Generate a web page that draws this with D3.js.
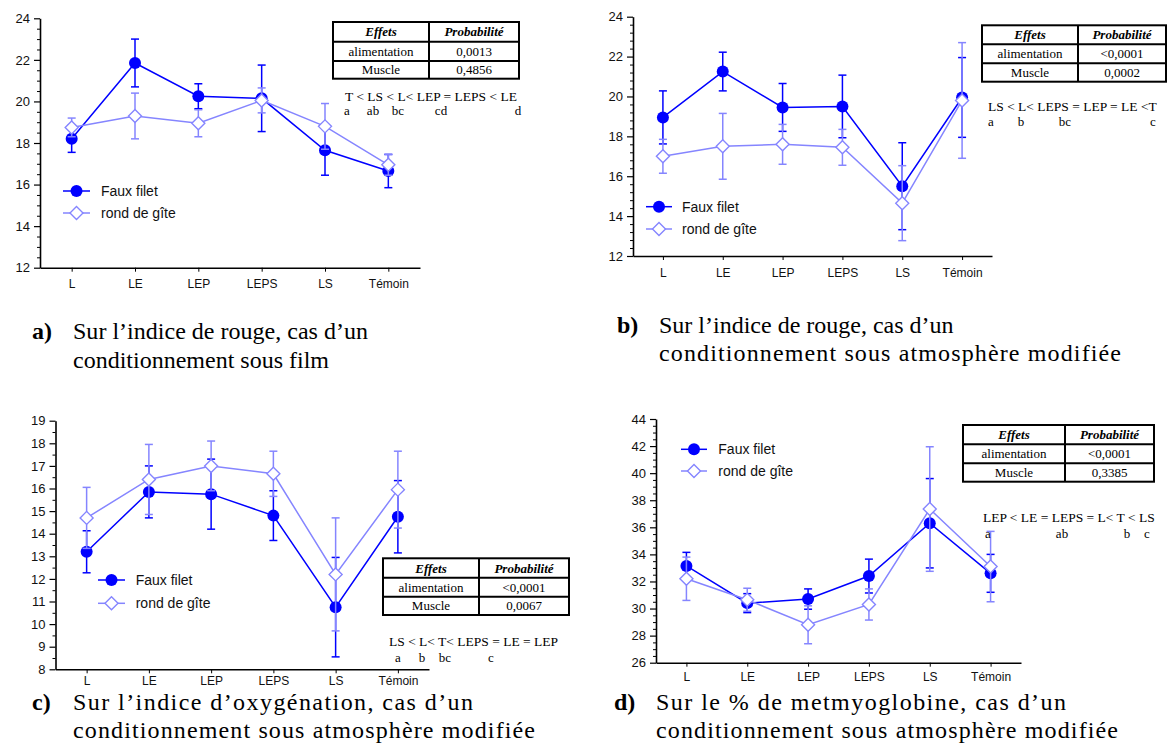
<!DOCTYPE html>
<html>
<head>
<meta charset="utf-8">
<script src="https://cdn.jsdelivr.net/npm/d3@7"></script>
<style>
  body { margin: 0; background: #fff; }
  svg { display: block; }
</style>
</head>
<body>
<svg id="fig" width="1167" height="756"></svg>
<script>
// Treatments on the x axis and the two muscles compared
const categories = ["L", "LE", "LEP", "LEPS", "LS", "Témoin"];
const seriesNames = ["Faux filet", "rond de gîte"];

// a) red index, film packaging
const ffA = [18.2, 21.85, 20.25, 20.15, 17.65, 16.65];
const ffAErr = [0.65, 1.15, 0.6, 1.6, 1.2, 0.8];
const rgA = [18.75, 19.3, 18.95, 20.05, 18.8, 16.95];
const rgAErr = [0.45, 1.1, 0.65, 0.6, 1.1, 0.5];

// b) red index, modified atmosphere
const ffB = [18.95, 21.25, 19.45, 19.5, 15.5, 19.95];
const ffBErr = [1.33, 0.97, 1.2, 1.57, 2.18, 2.0];
const rgB = [17.0, 17.5, 17.6, 17.45, 14.65, 19.8];
const rgBErr = [0.85, 1.65, 1.0, 0.9, 1.88, 2.9];

// c) oxygenation index, modified atmosphere
const ffC = [13.2, 15.85, 15.75, 14.8, 10.75, 14.75];
const ffCErr = [0.93, 1.15, 1.55, 1.1, 2.2, 1.6];
const rgC = [14.7, 16.4, 17.0, 16.65, 12.2, 15.95];
const rgCErr = [1.35, 1.55, 1.1, 1.0, 2.5, 1.7];

// d) % metmyoglobin, modified atmosphere
const ffD = [33.15, 30.4, 30.7, 32.4, 36.3, 32.6];
const ffDErr = [1.0, 0.7, 0.75, 1.25, 3.3, 1.4];
const rgD = [32.2, 30.65, 28.8, 30.3, 37.35, 33.1];
const rgDErr = [1.6, 0.85, 1.4, 1.15, 4.6, 2.6];

// Y axis ticks
const ticksA = [12, 14, 16, 18, 20, 22, 24];
const ticksB = [12, 14, 16, 18, 20, 22, 24];
const ticksC = [8, 9, 10, 11, 12, 13, 14, 15, 16, 17, 18, 19];
const ticksD = [26, 28, 30, 32, 34, 36, 38, 40, 42, 44];

// ANOVA tables
const tableHeader = ["Effets", "Probabilité"];
const effects = ["alimentation", "Muscle"];
const probA = ["0,0013", "0,4856"];
const probB = ["<0,0001", "0,0002"];
const probC = ["<0,0001", "0,0067"];
const probD = ["<0,0001", "0,3385"];

// Ranking of treatments and significance groups
const rankA = "T < LS < L< LEP = LEPS < LE";
const lettersA = ["a", "ab", "bc", "cd", "d"];
const rankB = "LS < L< LEPS = LEP = LE <T";
const lettersB = ["a", "b", "bc", "c"];
const rankC = "LS < L< T< LEPS = LE = LEP";
const lettersC = ["a", "b", "bc", "c"];
const rankD = "LEP < LE = LEPS = L< T < LS";
const lettersD = ["a", "ab", "b", "c"];

// Captions
const captionA = ["a)", "Sur l\u2019indice de rouge, cas d\u2019un", "conditionnement sous film"];
const captionB = ["b)", "Sur l\u2019indice de rouge, cas d\u2019un", "conditionnement sous atmosphère modifiée"];
const captionC = ["c)", "Sur l\u2019indice d\u2019oxygénation, cas d\u2019un", "conditionnement sous atmosphère modifiée"];
const captionD = ["d)", "Sur le % de metmyoglobine, cas d\u2019un", "conditionnement sous atmosphère modifiée"];

const COL_FF = "#0000ff";
const COL_RG = "#8585ff";
const SANS = "'Liberation Sans', Arial, sans-serif";
const SERIF = "'Liberation Serif', 'Times New Roman', serif";

const panels = [
  { ff: ffA, ffErr: ffAErr, rg: rgA, rgErr: rgAErr, ticks: ticksA, minor: 0.5,
    x0: 40, x1: 420, yTop: 18.3, yBot: 267.7, xPad: 8,
    legend: { x0: 63, x1: 90, y: 191, dy: 22, tx: 101 },
    table: { x0: 333, xm: 429, x1: 519, rows: [22, 41.7, 61, 78.7] }, probs: probA,
    rank: rankA, rankX: 345, rankY: 101, letters: lettersA, letterX: [347, 373, 398, 441, 518], letterY: 115,
    caption: captionA, capX: [32, 73], capY: 339, capFont: 24, capLead: 29, capLen: [295, null] },
  { ff: ffB, ffErr: ffBErr, rg: rgB, rgErr: rgBErr, ticks: ticksB, minor: 0.4,
    x0: 633, x1: 992, yTop: 16.7, yBot: 256, xPad: 8,
    legend: { x0: 646, x1: 672, y: 206.7, dy: 22.3, tx: 682 },
    table: { x0: 982, xm: 1078, x1: 1166, rows: [25.3, 44.3, 63.3, 81.7] }, probs: probB,
    rank: rankB, rankX: 988, rankY: 111, letters: lettersB, letterX: [991, 1021, 1065, 1153], letterY: 126,
    caption: captionB, capX: [617, 659], capY: 333, capFont: 24, capLead: 28, capLen: [null, 462] },
  { ff: ffC, ffErr: ffCErr, rg: rgC, rgErr: rgCErr, ticks: ticksC, minor: 0.5,
    x0: 55.5, x1: 429, yTop: 420.7, yBot: 669.3, xPad: 3,
    legend: { x0: 98, x1: 125, y: 580, dy: 23.3, tx: 135.7 },
    table: { x0: 383, xm: 479, x1: 569, rows: [558.3, 577.7, 596.7, 615] }, probs: probC,
    rank: rankC, rankX: 389, rankY: 646, letters: lettersC, letterX: [398, 422, 445, 491], letterY: 661.5,
    caption: captionC, capX: [32, 73], capY: 710, capFont: 24, capLead: 28, capLen: [400, 462] },
  { ff: ffD, ffErr: ffDErr, rg: rgD, rgErr: rgDErr, ticks: ticksD, minor: 0.5,
    x0: 656, x1: 1021, yTop: 419, yBot: 662.7, xPad: 6,
    legend: { x0: 681, x1: 707, y: 449.3, dy: 21.7, tx: 718.3 },
    table: { x0: 963, xm: 1065, x1: 1154, rows: [425, 444.3, 463.3, 481.7] }, probs: probD,
    rank: rankD, rankX: 983, rankY: 522, letters: lettersD, letterX: [988, 1062, 1127, 1147], letterY: 538,
    caption: captionD, capX: [614, 656], capY: 710, capFont: 24, capLead: 28, capLen: [410, 462] }
];

const svg = d3.select("#fig");

function diamond(sel, cx, cy, r) {
  sel.append("path")
    .attr("d", `M${cx},${cy - r}L${cx + r},${cy}L${cx},${cy + r}L${cx - r},${cy}Z`)
    .attr("fill", "#fff").attr("stroke", COL_RG).attr("stroke-width", 1.4);
}

function drawSeries(g, x, y, vals, errs, color, kind) {
  const pts = categories.map((c, i) => ({ c, v: vals[i], e: errs[i] }));
  g.append("path")
    .datum(pts)
    .attr("fill", "none").attr("stroke", color).attr("stroke-width", 1.5)
    .attr("d", d3.line().x(d => x(d.c)).y(d => y(d.v)));
  const eb = g.append("g").attr("stroke", color).attr("stroke-width", 1.5);
  pts.forEach(d => {
    const cx = x(d.c), lo = y(d.v - d.e), hi = y(d.v + d.e);
    eb.append("line").attr("x1", cx).attr("x2", cx).attr("y1", lo).attr("y2", hi);
    eb.append("line").attr("x1", cx - 4).attr("x2", cx + 4).attr("y1", lo).attr("y2", lo);
    eb.append("line").attr("x1", cx - 4).attr("x2", cx + 4).attr("y1", hi).attr("y2", hi);
  });
  pts.forEach(d => {
    if (kind === "circle") {
      g.append("circle").attr("cx", x(d.c)).attr("cy", y(d.v)).attr("r", 6).attr("fill", color);
    } else {
      diamond(g, x(d.c), y(d.v), 6.5);
    }
  });
}

panels.forEach(p => {
  const g = svg.append("g");
  const x = d3.scalePoint().domain(categories).range([p.x0, p.x1]).padding(0.5);
  const dom = [p.ticks[0], p.ticks[p.ticks.length - 1]];
  const y = d3.scaleLinear().domain(dom).range([p.yBot, p.yTop]);

  // minor ticks
  const minor = d3.range(dom[0], dom[1] + 1e-9, p.minor).filter(v => !p.ticks.some(t => Math.abs(t - v) < 1e-6));
  const yMinor = g.append("g").attr("transform", `translate(${p.x0},0)`)
    .call(d3.axisLeft(y).tickValues(minor).tickSize(3).tickSizeOuter(0).tickFormat(""));
  yMinor.select(".domain").remove();
  yMinor.selectAll("line").attr("stroke", "#000").attr("stroke-width", 1);

  const yAxis = g.append("g").attr("transform", `translate(${p.x0},0)`)
    .call(d3.axisLeft(y).tickValues(p.ticks).tickSize(6).tickSizeOuter(0).tickPadding(4).tickFormat(d3.format("d")));
  yAxis.select(".domain").attr("stroke", "#000").attr("stroke-width", 1.6);
  yAxis.selectAll(".tick line").attr("stroke", "#000").attr("stroke-width", 1.2);
  yAxis.selectAll("text").attr("font-family", SANS).attr("font-size", 13).attr("fill", "#111");

  const xAxis = g.append("g").attr("transform", `translate(0,${p.yBot})`)
    .call(d3.axisBottom(x).tickSize(4).tickSizeOuter(0).tickPadding(p.xPad));
  xAxis.select(".domain").attr("stroke", "#000").attr("stroke-width", 1.6);
  xAxis.selectAll(".tick line").attr("stroke", "#000").attr("stroke-width", 1);
  xAxis.selectAll("text").attr("font-family", SANS).attr("font-size", 12).attr("fill", "#111");

  // series: Faux filet underneath, rond de gîte on top
  drawSeries(g, x, y, p.ff, p.ffErr, COL_FF, "circle");
  drawSeries(g, x, y, p.rg, p.rgErr, COL_RG, "diamond");

  // legend
  const L = p.legend;
  const lg = g.append("g");
  [0, 1].forEach(i => {
    const ly = L.y + i * L.dy;
    const col = i === 0 ? COL_FF : COL_RG;
    lg.append("line").attr("x1", L.x0).attr("x2", L.x1).attr("y1", ly).attr("y2", ly)
      .attr("stroke", col).attr("stroke-width", 1.5);
    const mx = (L.x0 + L.x1) / 2;
    if (i === 0) lg.append("circle").attr("cx", mx).attr("cy", ly).attr("r", 6).attr("fill", col);
    else diamond(lg, mx, ly, 6.5);
    lg.append("text").attr("x", L.tx).attr("y", ly + 5)
      .attr("font-family", SANS).attr("font-size", 14).attr("fill", "#111").text(seriesNames[i]);
  });

  // table of effects
  const T = p.table;
  const tg = g.append("g");
  const rowsData = [tableHeader, [effects[0], p.probs[0]], [effects[1], p.probs[1]]];
  tg.append("rect").attr("x", T.x0).attr("y", T.rows[0])
    .attr("width", T.x1 - T.x0).attr("height", T.rows[3] - T.rows[0])
    .attr("fill", "#fff").attr("stroke", "#000").attr("stroke-width", 2);
  [1, 2].forEach(r => tg.append("line").attr("x1", T.x0).attr("x2", T.x1)
    .attr("y1", T.rows[r]).attr("y2", T.rows[r]).attr("stroke", "#000").attr("stroke-width", 2));
  tg.append("line").attr("x1", T.xm).attr("x2", T.xm).attr("y1", T.rows[0]).attr("y2", T.rows[3])
    .attr("stroke", "#000").attr("stroke-width", 2);
  rowsData.forEach((row, r) => {
    const cy = (T.rows[r] + T.rows[r + 1]) / 2 + 4.5;
    row.forEach((cell, c) => {
      const cx = c === 0 ? (T.x0 + T.xm) / 2 : (T.xm + T.x1) / 2;
      tg.append("text").attr("x", cx).attr("y", cy).attr("text-anchor", "middle")
        .attr("font-family", SERIF).attr("font-size", 13)
        .attr("font-weight", r === 0 ? "bold" : "normal")
        .attr("font-style", r === 0 ? "italic" : "normal")
        .attr("fill", "#000").text(cell);
    });
  });

  // ranking and groups
  g.append("text").attr("x", p.rankX).attr("y", p.rankY)
    .attr("font-family", SERIF).attr("font-size", 13.5).attr("fill", "#000").text(p.rank);
  p.letters.forEach((t, i) => {
    g.append("text").attr("x", p.letterX[i]).attr("y", p.letterY).attr("text-anchor", "middle")
      .attr("font-family", SERIF).attr("font-size", 13).attr("fill", "#000").text(t);
  });

  // caption
  const cg = g.append("g").attr("font-family", SERIF).attr("font-size", p.capFont).attr("fill", "#000");
  cg.append("text").attr("x", p.capX[0]).attr("y", p.capY).attr("font-weight", "bold").text(p.caption[0]);
  [1, 2].forEach(k => {
    const t = cg.append("text").attr("x", p.capX[1]).attr("y", p.capY + (k - 1) * p.capLead).text(p.caption[k]);
    const len = p.capLen[k - 1];
    if (len) t.attr("textLength", len).attr("lengthAdjust", "spacing");
  });
});
</script>
</body>
</html>
